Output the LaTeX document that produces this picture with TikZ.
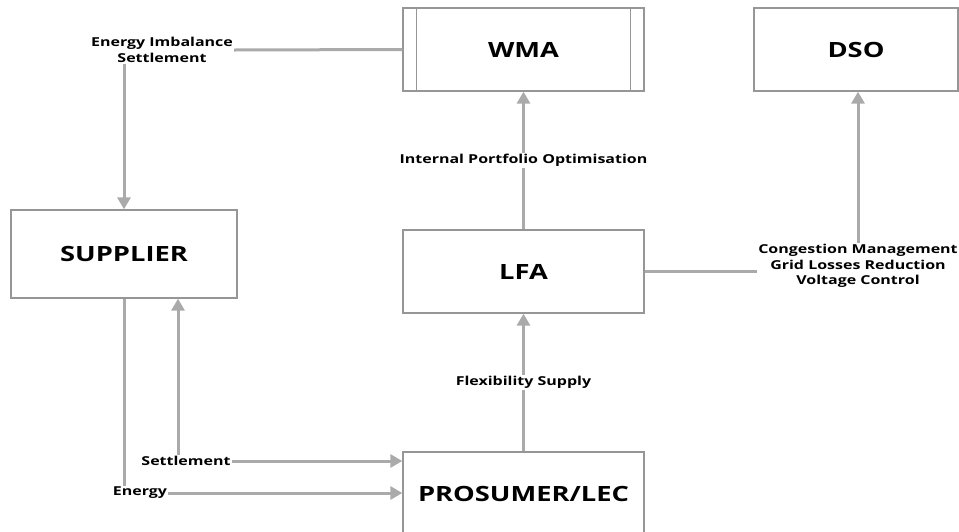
\documentclass[tikz,border=0pt]{standalone}
\usepackage{fontspec}
\setmainfont{Open Sans}[FakeStretch=1.3]
\usetikzlibrary{arrows.meta}
\definecolor{boxgray}{RGB}{150,150,150}
\definecolor{arrgray}{RGB}{170,170,170}
\tikzset{
  actor/.style={draw=boxgray, line width=1.3pt, fill=white, inner sep=0pt, font=\fontsize{21}{24}\selectfont\bfseries},
  lbl/.style={font=\fontsize{12.3}{15.5}\selectfont\bfseries, inner sep=1pt, align=center},
  flow/.style={draw=arrgray, line width=3pt},
  flowa/.style={flow, -{Triangle[width=13pt,length=12pt]}},
}
\begin{document}
\begin{tikzpicture}[x=1pt,y=-1pt]
\useasboundingbox (0,0) rectangle (959,531);
\node[actor, minimum width=241pt, minimum height=83pt] (wma) at (523.5,49.5) {WMA};
\draw[boxgray, line width=1.3pt] ([xshift=14pt]wma.north west) -- ([xshift=14pt]wma.south west);
\draw[boxgray, line width=1.3pt] ([xshift=-14pt]wma.north east) -- ([xshift=-14pt]wma.south east);
\node[actor, minimum width=204pt, minimum height=83pt] (dso) at (856,49.5) {DSO};
\node[actor, minimum width=226pt, minimum height=88pt] (sup) at (124,254) {SUPPLIER};
\node[actor, minimum width=241pt, minimum height=83pt] (lfa) at (523.5,271.5) {LFA};
\node[actor, minimum width=241pt, minimum height=84pt] (pro) at (523.5,494) {PROSUMER/LEC};

\node[lbl] (eis) at (162,50) {Energy Imbalance\\Settlement};
\node[lbl] (cm) at (858,266) {Congestion Management\\Grid Losses Reduction\\Voltage Control};
\node[lbl] (settle) at (186,461) {Settlement};
\node[lbl] (energy) at (140,493) {Energy};

\draw[flow] (wma.west) -- (eis.east);
\draw[flowa] (eis.south -| sup.north) -- (sup.north);
\draw[flowa] (lfa.north) -- node[lbl, fill=white, pos=0.5] (ipo) {Internal Portfolio Optimisation} (wma.south);
\draw[flowa] (pro.north) -- node[lbl, fill=white, pos=0.5] (flex) {Flexibility Supply} (lfa.south);
\draw[flow] (lfa.east) -- (lfa.east -| cm.west);
\draw[flowa] (cm.north) -- (cm.north |- dso.south);
\draw[flow] (sup.south) -- (sup.south |- energy.north);
\draw[flowa] (energy.east) -- (energy.east -| pro.west);
\draw[flowa] (settle.east) -- (settle.east -| pro.west);
\draw[flowa] ([xshift=-8pt]settle.north) -- ([xshift=-8pt]settle.north |- sup.south);
\end{tikzpicture}
\end{document}
